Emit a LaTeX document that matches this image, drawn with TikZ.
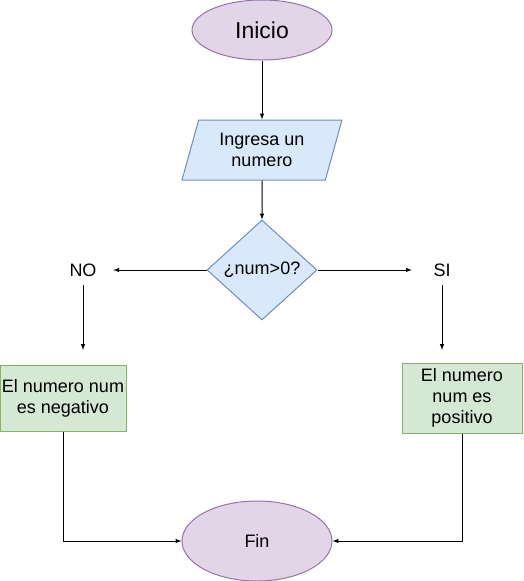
\documentclass[tikz,border=0pt]{standalone}
\usepackage{fontspec}
\setmainfont{Liberation Sans}
\usetikzlibrary{positioning, shapes.geometric}

\definecolor{lilafill}{HTML}{E1D5E7}
\definecolor{lilaline}{HTML}{9673A6}
\definecolor{azulfill}{HTML}{DAE8FC}
\definecolor{azulline}{HTML}{6C8EBF}
\definecolor{verdefill}{HTML}{D5E8D4}
\definecolor{verdeline}{HTML}{82B366}

\tikzset{
    texto/.style={font=\fontsize{18pt}{21pt}\selectfont, align=center, inner sep=0pt},
    terminal/.style={texto, ellipse, draw=lilaline, fill=lilafill, line width=1pt},
    entrada/.style={texto, trapezium, trapezium left angle=71.57, trapezium right angle=108.43,
        trapezium stretches=true, draw=azulline, fill=azulfill, line width=1pt,
        minimum width=160pt, minimum height=60pt},
    decision/.style={texto, diamond, draw=azulline, fill=azulfill, line width=1pt,
        minimum width=110pt, minimum height=100pt},
    proceso/.style={texto, rectangle, draw=verdeline, fill=verdefill, line width=1pt},
    flecha/.style={-latex, line width=1pt}
}

\begin{document}
\begin{tikzpicture}[x=1pt, y=-1pt]
        \useasboundingbox (0,0) rectangle (523,581);

        \node (inicio) at (262,30) [terminal, minimum width=140pt, minimum height=60pt, font=\fontsize{23pt}{26pt}\selectfont] {Inicio};
        \node (ingresa) at (262,150) [entrada] {Ingresa un\\numero};
        \node (dec) at (262,270) [decision] {¿num>0?};

        \node (no) at (83,270) [texto, minimum width=60pt, minimum height=30pt] {NO};
        \node (si) at (442,270) [texto, minimum width=60pt, minimum height=30pt] {SI};

        \coordinate (noabajo) at (83,350);
        \coordinate (siabajo) at (442,350);

        \node (neg) at (63,398) [proceso, minimum width=126pt, minimum height=66pt] {El numero num\\es negativo};
        \node (pos) at (462,398) [proceso, minimum width=120pt, minimum height=70pt] {El numero\\num es\\positivo};

        \node (fin) at (257,541) [terminal, minimum width=150pt, minimum height=80pt] {Fin};

        \draw[flecha] (inicio) -- (ingresa);
        \draw[flecha] (ingresa.south) -- (dec.north);
        \draw[flecha] (dec.west) -- (no.east);
        \draw[flecha] (dec.east) -- (si.west);
        \draw[flecha] (no.south) -- (noabajo);
        \draw[flecha] (si.south) -- (siabajo);

        \draw[flecha] (neg.south) |- (fin.west);
        \draw[flecha] (pos.south) |- (fin.east);
    \end{tikzpicture}
\end{document}
